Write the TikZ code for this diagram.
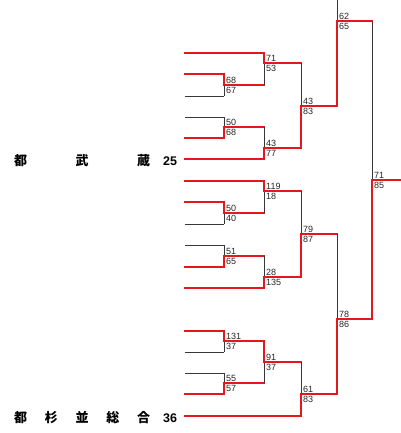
\documentclass[tikz,border=0pt]{standalone}
\usepackage{fontspec}
\setsansfont{Liberation Sans}
\newfontfamily\jpfont{Noto Sans CJK JP}
\usetikzlibrary{calc}
\definecolor{cWin}{RGB}{228,24,28}
\definecolor{cLine}{RGB}{55,55,55}
\tikzset{
    winline/.style ={draw=cWin, line width=2.4pt, line cap=rect},
    loseline/.style={draw=cLine, line width=0.9pt},
    score/.style   ={font=\sffamily\fontsize{9}{9}\selectfont, text=black!85, inner sep=0pt},
    team/.style    ={font=\jpfont\bfseries\fontsize{13}{13}\selectfont, inner sep=0pt, anchor=west},
    teamno/.style  ={font=\sffamily\bfseries\fontsize{12.5}{12.5}\selectfont, inner sep=0pt, anchor=west},
}

\begin{document}
\begin{tikzpicture}[x=1pt, y=-1pt]
        \useasboundingbox (0,0) rectangle (400,433);
        % entry lines
        \foreach \n/\y in {1/53, 2/74, 3/96, 4/117, 5/138, 6/159, 7/181, 8/202, 9/224,
                           10/245, 11/267, 12/288, 13/331, 14/352, 15/373, 16/394, 17/416}
            \coordinate (L\n) at (185,\y);
        % match points (x of the bar, y of the outgoing line)
        \foreach \m/\x/\y in {a1/224/85, a2/224/127, a3/224/213, a4/224/256, a5/224/341, a6/224/383,
                              b1/264/63, b2/264/148, b3/264/191, b4/264/277, b5/264/362,
                              c1/301/106, c2/301/234, c3/301/394,
                              d1/337/21, d2/337/319, fin/372/180}
            \coordinate (\m) at (\x,\y);
        \coordinate (top) at (337,0);
        \coordinate (out) at (400,180);

        % teams
        \node[team] (n6) at (14,161) {\makebox[136pt]{都\hfill 武\hfill 蔵}};
        \node[teamno] (s6) at (163,161) {25};
        \node[team] (n17) at (14,418) {\makebox[136pt]{都\hfill 杉\hfill 並\hfill 総\hfill 合}};
        \node[teamno] (s17) at (163,418) {36};

        % first lines
        \foreach \n/\mt/\st in {1/b1/winline, 2/a1/winline, 3/a1/loseline, 4/a2/loseline, 5/a2/winline,
                                6/b2/winline, 7/b3/winline, 8/a3/winline, 9/a3/loseline, 10/a4/loseline,
                                11/a4/winline, 12/b4/winline, 13/a5/winline, 14/a5/loseline,
                                15/a6/loseline, 16/a6/winline, 17/c3/winline}
            \draw[\st] (L\n) -- (L\n -| \mt);

        % matches: bar, winner path, scores
        \foreach \m/\ta/\tb/\w/\nx/\sa/\sb in {a1/L2/L3/L2/b1/68/67, a2/L4/L5/L5/b2/50/68,
                    a3/L8/L9/L8/b3/50/40, a4/L10/L11/L11/b4/51/65, a5/L13/L14/L13/b5/131/37,
                    a6/L15/L16/L16/b5/55/57, b1/L1/a1/L1/c1/71/53, b2/a2/L6/L6/c1/43/77,
                    b3/L7/a3/L7/c2/119/18, b4/a4/L12/L12/c2/28/135, b5/a5/a6/a5/c3/91/37,
                    c1/b1/b2/b2/d1/43/83, c2/b3/b4/b4/d2/79/87, c3/b5/L17/L17/d2/61/83,
                    d1/top/c1/c1/fin/62/65, d2/c2/c3/c3/fin/78/86, fin/d1/d2/d2/out/71/85} {
            \draw[loseline] (\m |- \ta) -- (\m |- \tb);
            \draw[winline] (\m |- \w) -- (\m) -- (\m -| \nx);
            \node[score, anchor=south west, xshift=2pt, yshift=1.5pt] (\m-hi) at (\m) {\sa};
            \node[score, anchor=north west, xshift=2pt, yshift=-2.2pt] (\m-lo) at (\m) {\sb};
        }
\end{tikzpicture}
\end{document}
